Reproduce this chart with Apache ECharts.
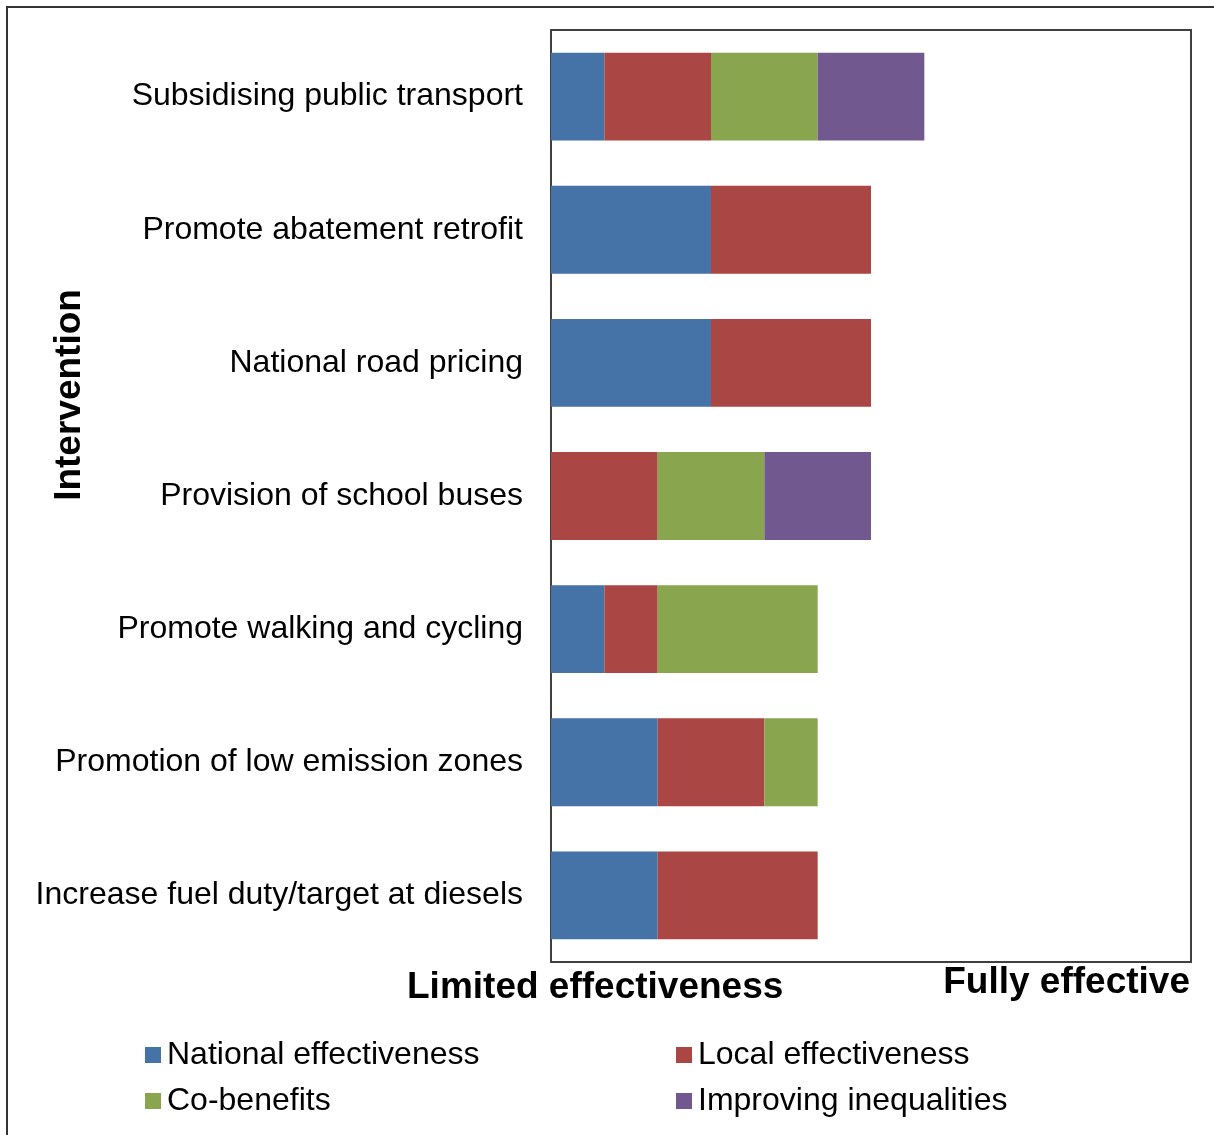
<!DOCTYPE html>
<html><head><meta charset="utf-8">
<script src="https://cdn.jsdelivr.net/npm/echarts@6/dist/echarts.min.js"></script>
<style>
html,body{margin:0;padding:0;background:#fff;overflow:hidden;}
#frame{position:absolute;left:6px;top:6px;width:1300px;height:1300px;border:2px solid #333;box-sizing:border-box;}
#c{position:absolute;left:0;top:0;width:1214px;height:1135px;}
</style></head>
<body><div id="frame"></div><div id="c"></div>
<script>
const categories = ["Subsidising public transport","Promote abatement retrofit","National road pricing","Provision of school buses","Promote walking and cycling","Promotion of low emission zones","Increase fuel duty/target at diesels"];
const seriesNames = ["National effectiveness","Local effectiveness","Co-benefits","Improving inequalities"];
const national = [1,3,3,0,1,2,2];
const local = [2,3,3,2,1,2,3];
const coBenefits = [2,0,0,2,3,1,0];
const inequalities = [2,0,0,2,0,0,0];
const colors = ["#4572A7","#AA4643","#89A54E","#71588F"];
const values = [national, local, coBenefits, inequalities];

const chart = echarts.init(document.getElementById('c'));
const font = "'Liberation Sans', Arial, sans-serif";
const legendPos = [[140,1034],[671,1034],[140,1080],[671,1080]];
chart.setOption({
  animation:false,
  textStyle:{fontFamily:font},
  grid:{left:551,top:30,width:640,height:932,show:true,borderColor:'#404040',borderWidth:2,backgroundColor:'transparent',outerBoundsMode:'none',containLabel:false},
  xAxis:{type:'value',min:0,max:12,axisLabel:{show:false},splitLine:{show:false},axisLine:{show:false},axisTick:{show:false}},
  yAxis:{type:'category',data:categories,inverse:true,axisLine:{show:false},axisTick:{show:false},
    axisLabel:{fontSize:32,color:'#000',margin:28,fontFamily:font,padding:[6,0,0,0]}},
  legend: seriesNames.map((n,i)=>({data:[n],left:legendPos[i][0],top:legendPos[i][1],itemWidth:16,itemHeight:16,itemGap:6,icon:'rect',
    textStyle:{fontSize:32,color:'#000',fontFamily:font,padding:[0,0,0,1]}})),
  graphic:[
    {type:'text',x:70,y:395,rotation:Math.PI/2,style:{text:'Intervention',align:'center',verticalAlign:'middle',font:"bold 37px 'Liberation Sans', Arial, sans-serif",fill:'#000'}},
    {type:'text',left:407,top:969,style:{text:'Limited effectiveness',font:"bold 37px 'Liberation Sans', Arial, sans-serif",fill:'#000'}},
    {type:'text',right:24,top:964,style:{text:'Fully effective',font:"bold 37px 'Liberation Sans', Arial, sans-serif",fill:'#000'}}
  ],
  series: seriesNames.map((n,i)=>({name:n,type:'bar',stack:'s',data:values[i],barCategoryGap:'34%',itemStyle:{color:colors[i]}}))
});
</script></body></html>
